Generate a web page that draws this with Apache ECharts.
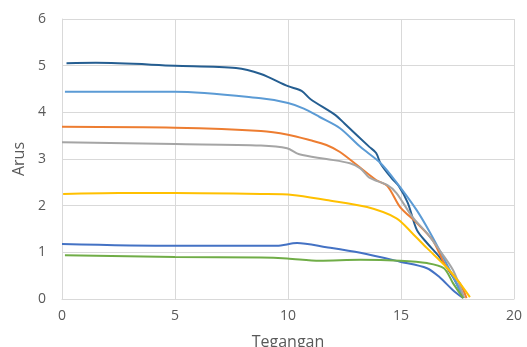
<!DOCTYPE html>
<html><head><meta charset="utf-8">
<script src="https://cdn.jsdelivr.net/npm/echarts@6/dist/echarts.min.js"></script>
<style>html,body{margin:0;padding:0;background:#fff}#c{width:527px;height:347px}</style>
</head><body><div id="c"></div>
<script>
const xTicks = [0, 5, 10, 15, 20];
const yTicks = [0, 1, 2, 3, 4, 5, 6];
const s1 = [[0.2,5.05],[1.5,5.06],[5,5.0],[7.7,4.95],[8.8,4.82],[10,4.56],[10.6,4.46],[11,4.28],[12.1,3.94],[12.5,3.76],[13.6,3.26],[13.9,3.13],[14.1,2.9],[14.6,2.58],[14.9,2.42],[15.3,2.06],[15.7,1.48],[16.15,1.2],[16.7,0.9],[17.3,0.47],[17.75,0.04]];
const s2 = [[0.13,4.44],[5,4.44],[8.8,4.3],[10,4.2],[10.7,4.08],[11.4,3.9],[12.3,3.66],[13.2,3.26],[14.1,2.91],[14.8,2.5],[15.7,1.9],[16.3,1.41],[17.0,0.77],[17.75,0.04]];
const s3 = [[0,3.69],[5,3.67],[8.8,3.6],[10,3.52],[11,3.4],[11.7,3.3],[12.3,3.15],[13.05,2.87],[13.9,2.55],[14.4,2.42],[14.96,1.97],[15.7,1.63],[16.4,1.26],[17.0,0.69],[17.6,0.34],[17.9,0.02]];
const s4 = [[0,3.36],[5,3.32],[8.8,3.29],[9.96,3.23],[10.5,3.1],[11.7,3.0],[12.74,2.91],[13.2,2.8],[13.6,2.6],[14.4,2.44],[14.8,2.27],[15.5,1.76],[16.15,1.41],[16.7,1.05],[17.3,0.62],[17.8,0.02]];
const s5 = [[0.05,2.25],[2.5,2.27],[5,2.27],[8.8,2.25],[10.2,2.23],[11.7,2.12],[13.5,1.97],[14.8,1.73],[15.5,1.41],[16.15,1.09],[17.0,0.69],[17.6,0.34],[18.05,0.04]];
const s6 = [[0,1.18],[5,1.14],[8.8,1.14],[9.5,1.14],[10.4,1.2],[11.7,1.11],[13.2,0.99],[14.96,0.8],[16.15,0.66],[16.7,0.47],[17.3,0.19],[17.75,0.02]];
const s7 = [[0.13,0.94],[5,0.9],[8.8,0.89],[9.96,0.87],[11.4,0.82],[13.2,0.84],[14.96,0.82],[16.15,0.77],[16.9,0.66],[17.3,0.34],[17.75,0.02]];
const seriesData = [s1, s2, s3, s4, s5, s6, s7];
const colors = ['#255E91','#5B9BD5','#ED7D31','#A5A5A5','#FFC000','#4472C4','#70AD47'];

const chart = echarts.init(document.getElementById('c'));
const font = '"Open Sans", "Liberation Sans", sans-serif';
chart.setOption({
  animation: false,
  grid: {left: 62, right: 13, top: 19, bottom: 48, outerBoundsMode: 'none', containLabel: false},
  xAxis: {
    type: 'value', min: 0, max: 20, interval: 5,
    name: 'Tegangan', nameLocation: 'middle', nameGap: 35,
    nameTextStyle: {color: '#595959', fontSize: 16, fontFamily: font},
    axisLine: {show: true, lineStyle: {color: '#D9D9D9', width: 1}},
    axisTick: {show: false},
    axisLabel: {color: '#595959', fontSize: 14, fontFamily: font, margin: 10},
    splitLine: {show: true, lineStyle: {color: '#D9D9D9'}}
  },
  yAxis: {
    type: 'value', min: 0, max: 6, interval: 1,
    name: 'Arus', nameLocation: 'middle', nameGap: 34,
    nameTextStyle: {color: '#595959', fontSize: 16, fontFamily: font},
    axisLine: {show: true, lineStyle: {color: '#D9D9D9', width: 1}},
    axisTick: {show: false},
    axisLabel: {color: '#595959', fontSize: 14, fontFamily: font, margin: 16},
    splitLine: {show: true, lineStyle: {color: '#D9D9D9'}}
  },
  series: seriesData.map((d, i) => ({
    type: 'line', data: d, smooth: 0.3, showSymbol: false, symbol: 'none',
    lineStyle: {color: colors[i], width: 2}, itemStyle: {color: colors[i]}
  }))
});
</script></body></html>
